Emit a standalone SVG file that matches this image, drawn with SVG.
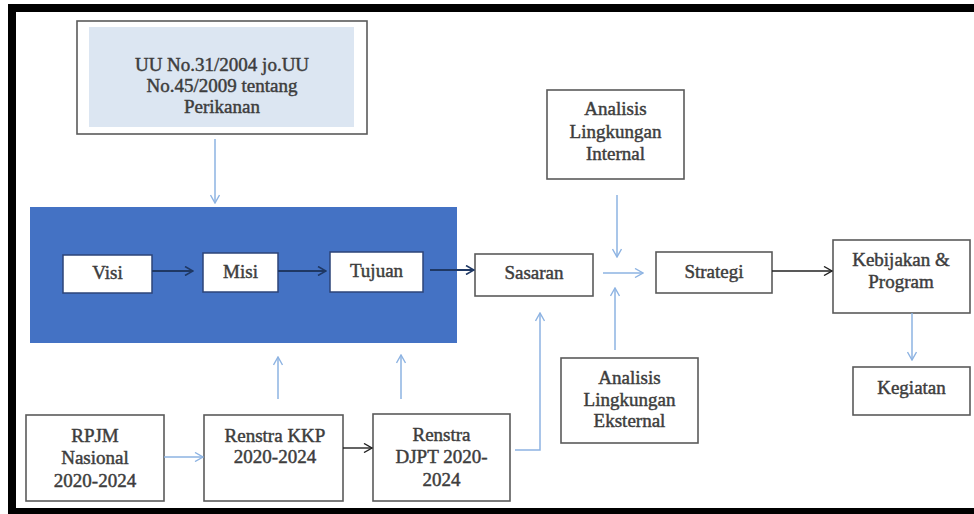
<svg xmlns="http://www.w3.org/2000/svg" width="974" height="514" viewBox="0 0 974 514">
<defs>
<style>
.box{fill:#ffffff;stroke:#5a5a5a;stroke-width:1.6}
.ibox{fill:#ffffff;stroke:#2c4478;stroke-width:1.5}
.t{font-family:"Liberation Serif","Times New Roman",serif;font-size:19px;fill:#3d3d3d;stroke:#3d3d3d;stroke-width:0.45;text-anchor:middle}
.lb{fill:none;stroke:#8db3e2;stroke-width:1.5;marker-end:url(#mlb)}
.nv{fill:none;stroke:#1f3864;stroke-width:1.8;marker-end:url(#mnv)}
.bk{fill:none;stroke:#222222;stroke-width:1.4;marker-end:url(#mbk)}
</style>
<marker id="mlb" viewBox="0 0 10 10" refX="9" refY="5" markerWidth="10" markerHeight="10" markerUnits="userSpaceOnUse" orient="auto"><path d="M1,0.5 L9,5 L1,9.5" fill="none" stroke="#8db3e2" stroke-width="1.4"/></marker>
<marker id="mnv" viewBox="0 0 10 10" refX="9" refY="5" markerWidth="10" markerHeight="10" markerUnits="userSpaceOnUse" orient="auto"><path d="M1,0.5 L9,5 L1,9.5" fill="none" stroke="#1f3864" stroke-width="1.6"/></marker>
<marker id="mbk" viewBox="0 0 10 10" refX="9" refY="5" markerWidth="10" markerHeight="10" markerUnits="userSpaceOnUse" orient="auto"><path d="M1,0.5 L9,5 L1,9.5" fill="none" stroke="#222222" stroke-width="1.4"/></marker>
</defs>
<rect x="0" y="0" width="974" height="514" fill="#ffffff"/>
<rect x="12" y="8" width="990" height="504" fill="none" stroke="#000000" stroke-width="8"/>

<g id="uu">
<rect class="box" x="77" y="21" width="290" height="113"/>
<rect x="89" y="27" width="265" height="100" fill="#dce6f2"/>
<text class="t" x="222" y="71">UU No.31/2004 jo.UU</text>
<text class="t" x="222" y="92">No.45/2009 tentang</text>
<text class="t" x="222" y="113">Perikanan</text>
</g>

<g id="blok">
<rect x="30" y="207" width="427" height="136" fill="#4472c4"/>
</g>
<g id="visi">
<rect class="ibox" x="63" y="255" width="89" height="38"/>
<text class="t" x="107.5" y="279">Visi</text>
</g>
<g id="misi">
<rect class="ibox" x="203" y="253" width="75" height="39"/>
<text class="t" x="240.5" y="278">Misi</text>
</g>
<g id="tujuan">
<rect class="ibox" x="330" y="252" width="93" height="40"/>
<text class="t" x="376.5" y="277">Tujuan</text>
</g>

<g id="sasaran">
<rect class="box" x="475" y="254" width="118" height="42"/>
<text class="t" x="534" y="279">Sasaran</text>
</g>
<g id="internal">
<rect class="box" x="547" y="90" width="137" height="89"/>
<text class="t" x="615.5" y="115">Analisis</text>
<text class="t" x="615.5" y="138">Lingkungan</text>
<text class="t" x="615.5" y="160">Internal</text>
</g>
<g id="eksternal">
<rect class="box" x="561" y="358" width="137" height="85"/>
<text class="t" x="629.5" y="384">Analisis</text>
<text class="t" x="629.5" y="406">Lingkungan</text>
<text class="t" x="629.5" y="427">Eksternal</text>
</g>
<g id="strategi">
<rect class="box" x="656" y="252" width="116" height="41"/>
<text class="t" x="714" y="278">Strategi</text>
</g>
<g id="kebijakan">
<rect class="box" x="833" y="240" width="137" height="73"/>
<text class="t" x="901" y="266">Kebijakan &amp;</text>
<text class="t" x="901" y="288">Program</text>
</g>
<g id="kegiatan">
<rect class="box" x="853" y="367" width="117" height="48"/>
<text class="t" x="911.5" y="394">Kegiatan</text>
</g>
<g id="rpjm">
<rect class="box" x="26" y="415" width="138" height="86"/>
<text class="t" x="95" y="442">RPJM</text>
<text class="t" x="95" y="464">Nasional</text>
<text class="t" x="95" y="487">2020-2024</text>
</g>
<g id="kkp">
<rect class="box" x="204" y="415" width="139" height="86"/>
<text class="t" x="275" y="442">Renstra KKP</text>
<text class="t" x="275" y="463">2020-2024</text>
</g>
<g id="djpt">
<rect class="box" x="373" y="414" width="137" height="87"/>
<text class="t" x="441.5" y="441">Renstra</text>
<text class="t" x="441.5" y="463">DJPT 2020-</text>
<text class="t" x="441.5" y="486">2024</text>
</g>

<g id="connectors">
<path class="lb" d="M215,139 L215,203"/>
<path class="nv" d="M152,271 L193,271"/>
<path class="nv" d="M278,271 L326,271"/>
<path class="nv" d="M430,270 L474,270"/>
<path class="lb" d="M278,399 L278,357"/>
<path class="lb" d="M401,399 L401,355"/>
<path class="lb" d="M164,457 L203,457"/>
<path class="bk" d="M343,448 L372,448"/>
<path class="lb" d="M515,450 L540,450 L540,313"/>
<path class="lb" d="M617,195 L617,257"/>
<path class="lb" d="M615,350 L615,288"/>
<path class="lb" d="M603,273 L643,273"/>
<path class="bk" d="M772,271 L832,271"/>
<path class="lb" d="M912,313 L912,360"/>
</g>
</svg>
